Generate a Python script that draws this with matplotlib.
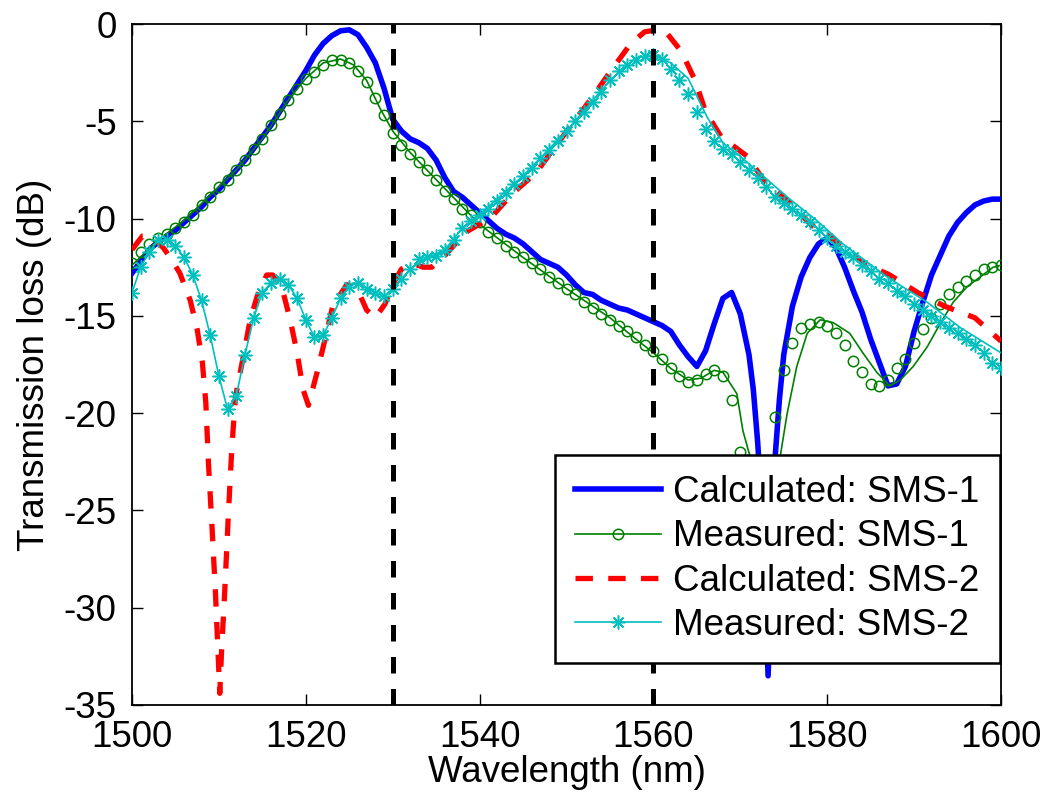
import matplotlib
matplotlib.use("Agg")
import matplotlib.pyplot as plt

plt.rcParams['font.family'] = ['Liberation Sans', 'DejaVu Sans']
plt.rcParams['axes.unicode_minus'] = False

# ---------------- data ----------------
calc1_wl = [1500, 1501, 1502, 1503, 1504, 1505, 1506, 1507, 1508, 1509, 1510,
            1511, 1512, 1513, 1514, 1515, 1516, 1517, 1518, 1519, 1520,
            1521, 1522, 1523, 1524, 1525, 1526, 1527, 1528, 1529, 1530,
            1531, 1532, 1533, 1534, 1535, 1536, 1537, 1538, 1539, 1540,
            1541, 1542, 1543, 1544, 1545, 1546, 1547, 1548, 1549, 1550,
            1551, 1552, 1553, 1554, 1555, 1556, 1557, 1558, 1559, 1560,
            1561, 1562, 1563, 1564, 1565, 1566, 1567, 1568, 1569, 1570,
            1571, 1571.5, 1572, 1572.5, 1573.2, 1574, 1574.5, 1575, 1576, 1577,
            1578, 1579, 1580, 1581, 1582, 1583, 1584, 1585, 1586, 1587,
            1588, 1589, 1590, 1591, 1592, 1593, 1594, 1595, 1596, 1597,
            1598, 1599, 1600]
calc1_db = [-12.8, -12.2, -11.6, -11.2, -10.9, -10.6, -10.2, -9.8, -9.4, -8.9, -8.5,
            -8.0, -7.5, -7.0, -6.4, -5.8, -5.2, -4.5, -3.8, -3.1, -2.4,
            -1.6, -1.0, -0.6, -0.35, -0.3, -0.55, -1.2, -2.0, -3.3, -4.9,
            -5.5, -5.9, -6.1, -6.4, -7.0, -7.9, -8.6, -8.9, -9.3, -9.7,
            -10.1, -10.5, -10.8, -11.0, -11.3, -11.7, -12.1, -12.3, -12.5, -12.9,
            -13.4, -13.8, -13.9, -14.2, -14.4, -14.6, -14.7, -14.9, -15.1, -15.3,
            -15.5, -15.8, -16.5, -17.1, -17.6, -16.8, -15.4, -14.1, -13.8, -14.9,
            -17.0, -18.8, -21.5, -25.0, -33.5, -22.3, -19.3, -17.0, -14.5, -13.0,
            -12.0, -11.3, -11.0, -11.5, -12.5, -13.7, -14.8, -16.2, -17.4, -18.6,
            -18.5, -17.6, -15.8, -14.3, -12.9, -11.9, -10.9, -10.2, -9.7, -9.3,
            -9.1, -9.0, -9.0]

meas_wl = list(range(1500, 1601))
meas1_db = [-12.3, -11.7, -11.3, -11.0, -10.8, -10.5, -10.2, -9.8, -9.3, -8.9,
            -8.4, -8.0, -7.5, -7.0, -6.4, -5.9, -5.2, -4.6, -3.9, -3.35,
            -2.85, -2.45, -2.1, -1.85, -1.85, -2.0, -2.4, -3.0, -3.8, -4.7,
            -5.6, -6.2, -6.7, -7.1, -7.5, -8.0, -8.6, -9.0, -9.5, -9.8,
            -10.2, -10.7, -11.0, -11.4, -11.7, -12.0, -12.3, -12.6, -13.0, -13.3,
            -13.6, -13.9, -14.3, -14.6, -14.9, -15.2, -15.5, -15.8, -16.1, -16.5,
            -16.8, -17.2, -17.7, -18.1, -18.4, -18.3, -18.0, -17.8, -18.1, -19.3,
            -22.0, -25.0, -27.0, -24.5, -20.2, -17.8, -16.4, -15.6, -15.4, -15.3,
            -15.5, -15.9, -16.5, -17.3, -17.9, -18.5, -18.6, -18.3, -17.7, -17.2,
            -16.4, -15.7, -15.1, -14.4, -13.9, -13.5, -13.2, -12.9, -12.6, -12.5,
            -12.4]
meas2_db = [-13.8, -12.5, -11.7, -11.1, -11.1, -11.4, -12.0, -12.9, -14.2, -16.0,
            -18.1, -19.8, -19.1, -17.0, -15.1, -13.8, -13.3, -13.1, -13.4, -14.1,
            -15.2, -16.1, -16.0, -15.1, -14.1, -13.5, -13.3, -13.6, -13.8, -14.0,
            -13.6, -13.1, -12.6, -12.1, -12.0, -11.9, -11.6, -11.1, -10.5, -10.1,
            -9.8, -9.5, -9.1, -8.7, -8.2, -7.8, -7.4, -6.9, -6.5, -6.0,
            -5.5, -5.0, -4.5, -4.0, -3.5, -2.9, -2.4, -2.1, -1.85, -1.65,
            -1.6, -1.8, -2.3, -2.9, -3.6, -4.5, -5.4, -6.0, -6.4, -6.7,
            -7.1, -7.5, -7.9, -8.4, -8.9, -9.2, -9.5, -9.8, -10.2, -10.6,
            -11.0, -11.4, -11.7, -12.0, -12.4, -12.7, -13.1, -13.3, -13.7, -14.0,
            -14.4, -14.7, -15.0, -15.3, -15.6, -15.9, -16.2, -16.5, -16.9, -17.4,
            -17.7]

# smoothed fit lines through the measured data
fit1_wl = [1500, 1503, 1506, 1509, 1512, 1515, 1518, 1520, 1522, 1524, 1525.5,
           1527, 1528.5, 1530, 1532, 1535, 1540, 1545, 1550, 1555, 1558, 1560,
           1562, 1564, 1565.5, 1567, 1568, 1569.6, 1570.3, 1571.1, 1572, 1573,
           1574, 1574.6, 1575.4, 1576.5, 1577.7, 1579.2, 1580.7, 1582.6, 1584.1,
           1585.7, 1587.2, 1588.4, 1589.9, 1591.5, 1593, 1594.5, 1596.1, 1597.6,
           1599.1, 1600]
fit1_db = [-12.4, -11.1, -10.1, -8.8, -7.5, -5.9, -3.9, -2.8, -2.0, -1.8, -2.1,
           -2.9, -4.3, -5.5, -6.6, -8.0, -10.3, -12.0, -13.6, -15.1, -16.2, -16.9,
           -17.7, -18.3, -18.2, -17.8, -17.9, -19.0, -20.9, -22.2, -26.0, -28.0,
           -25.0, -22.2, -20.0, -17.6, -15.9, -15.2, -15.35, -15.9, -16.9,
           -17.9, -18.6, -18.3, -17.6, -16.6, -15.4, -14.3, -13.5, -13.0,
           -12.5, -12.4]
fit2_wl = [1500, 1501, 1502, 1503, 1504, 1505, 1506, 1507, 1508, 1509, 1510,
           1511, 1512, 1513, 1514, 1515, 1516, 1517, 1518, 1519, 1520,
           1521, 1522, 1523, 1524, 1525, 1526, 1527, 1528, 1529, 1530,
           1532, 1534, 1536, 1538, 1540, 1545, 1550, 1555, 1558, 1560,
           1562, 1564, 1566.2, 1568, 1570, 1573.1, 1575.7, 1578.8, 1581.8,
           1586.9, 1591.5, 1595.3, 1600]
fit2_db = [-13.8, -12.5, -11.7, -11.1, -11.1, -11.4, -12.0, -12.9, -14.2, -16.0,
           -18.1, -19.8, -19.1, -17.0, -15.1, -13.8, -13.3, -13.1, -13.4, -14.1,
           -15.2, -16.1, -16.0, -15.1, -14.1, -13.5, -13.3, -13.6, -13.8, -14.0,
           -13.6, -12.6, -12.0, -11.6, -10.5, -9.8, -7.8, -5.5, -2.9, -1.75, -1.6,
           -2.0, -2.8, -4.8, -6.1, -6.8, -8.0, -9.0, -10.1, -11.3,
           -13.0, -14.3, -15.6, -16.9]

calc2_wl = [1500, 1501.2, 1502.2, 1503.6, 1504.4, 1505.5, 1506.7, 1507.5, 1508.1,
            1508.5, 1508.8, 1509.2, 1509.6, 1509.9, 1510.1, 1510.3, 1510.7, 1511.1,
            1511.5, 1511.9, 1512.8, 1513.6, 1514.4, 1515.5, 1516.2, 1517.4, 1518.2,
            1519, 1519.7, 1520.3, 1521.3, 1522, 1523.1, 1524.7, 1525.9, 1527, 1528,
            1529.1, 1530, 1531, 1532.3, 1533.5, 1534.5, 1536, 1538.4, 1541.3,
            1543.8, 1546.5, 1548.6, 1551, 1553.3, 1555.2, 1557.4, 1559, 1560.5,
            1561.6, 1563.2, 1564.8, 1566, 1567.8, 1569, 1570.8, 1572.8, 1575.6,
            1578.1, 1580.9, 1583.8, 1587.2, 1590.4, 1593.5, 1597, 1600]
calc2_db = [-11.6, -10.9, -10.9, -11.5, -12.0, -12.8, -14.2, -15.7, -17.4,
            -19.5, -22.6, -25.8, -29.2, -32.3, -34.4, -32.3, -28.9, -25.1,
            -21.7, -19.2, -17.1, -15.2, -14.0, -12.9, -12.9, -13.8, -15.2,
            -16.9, -18.8, -19.6, -17.9, -16.6, -14.5, -13.4, -13.6, -14.7, -15.1,
            -14.4, -13.4, -12.6, -12.3, -12.5, -12.5, -11.9, -10.7, -9.95,
            -8.7, -7.65, -6.35, -4.95, -3.55, -2.35, -1.0, -0.4, -0.3,
            -0.5, -1.4, -2.9, -4.5, -5.8, -6.2, -6.8, -8.1, -9.15,
            -10.3, -11.1, -12.2, -12.9, -13.8, -14.5, -15.1, -16.3]

marker_lines = [1530, 1560]
labels = ['Calculated: SMS-1', 'Measured: SMS-1', 'Calculated: SMS-2', 'Measured: SMS-2']
xticks = [1500, 1520, 1540, 1560, 1580, 1600]
yticks = [0, -5, -10, -15, -20, -25, -30, -35]

# ---------------- styles ----------------
BLUE = (0, 0, 1)
GREEN = (0, 0.5, 0)
RED = (1, 0, 0)
CYAN = (0, 0.75, 0.75)
FS = 26.5

fig = plt.figure(figsize=(10.49, 7.98), dpi=100)
ax = fig.add_axes([132 / 1049, 1 - 705 / 798, (1001 - 132) / 1049, (705 - 24) / 798])

ax.plot(calc1_wl, calc1_db, color=BLUE, lw=4.0, solid_joinstyle='round', zorder=3)
ax.plot(fit1_wl, fit1_db, color=GREEN, lw=1.2, zorder=4)
ax.plot(meas_wl, meas1_db, linestyle='none', marker='o', ms=7.5, mfc='none',
        mec=GREEN, mew=1.1, zorder=4)
ax.plot(calc2_wl, calc2_db, color=RED, lw=3.8, dashes=(3.3, 2.9), zorder=5)
ax.plot(fit2_wl, fit2_db, color=CYAN, lw=1.2, zorder=6)
ax.plot(meas_wl, meas2_db, linestyle='none', marker=(8, 2, 0), ms=10, mec=CYAN,
        mew=1.1, zorder=6)

for xv in marker_lines:
    ax.axvline(xv, color='black', lw=3.6, dashes=(3.3, 3.1), zorder=7)

# legend proxies
h1, = ax.plot([], [], color=BLUE, lw=4.0)
h2, = ax.plot([], [], color=GREEN, lw=1.2, marker='o', ms=7.5, mfc='none', mew=1.1)
h3, = ax.plot([], [], color=RED, lw=3.8, dashes=(3.3, 2.9))
h4, = ax.plot([], [], color=CYAN, lw=1.2, marker=(8, 2, 0), ms=10, mew=1.1)

leg = ax.legend([h1, h2, h3, h4], labels, loc='upper right',
                bbox_to_anchor=(1000 / 1049, 1 - 455 / 798), bbox_transform=fig.transFigure,
                borderaxespad=0, fontsize=FS, frameon=True, fancybox=False,
                framealpha=1, edgecolor='black', handlelength=2.35,
                handletextpad=0.33, labelspacing=0.25, borderpad=0.55)
leg.get_frame().set_linewidth(1.8)
leg.set_zorder(10)

ax.set_xlim(1500, 1600)
ax.set_ylim(-35, 0)
ax.set_xticks(xticks)
ax.set_yticks(yticks)
ax.set_xticklabels([str(v) for v in xticks])
ax.set_yticklabels([str(v) for v in yticks])
ax.tick_params(direction='in', length=8, width=1.0, labelsize=FS,
               top=True, right=True)
ax.tick_params(axis='x', pad=11)
ax.tick_params(axis='y', pad=11)
for sp in ax.spines.values():
    sp.set_linewidth(1.3)

ax.set_xlabel('Wavelength (nm)', fontsize=FS, labelpad=0)
ax.set_ylabel('Transmission loss (dB)', fontsize=FS, labelpad=8)

fig.savefig('out.png', dpi=100)
